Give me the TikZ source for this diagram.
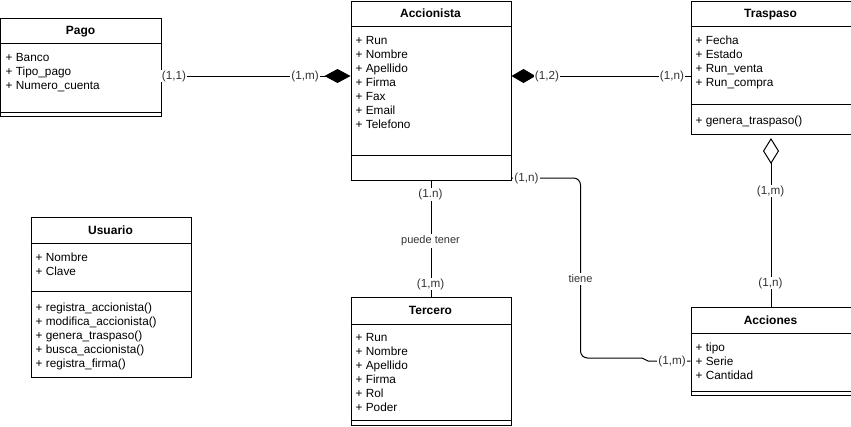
\documentclass[tikz,border=0pt]{standalone}
\usepackage{fontspec}
\setmainfont{Liberation Sans}
\usetikzlibrary{arrows.meta}
\definecolor{lbl}{HTML}{333333}
\begin{document}
\begin{tikzpicture}[x=1bp,y=-1bp,
  classbox/.style={draw=black, line width=1bp, anchor=north west, inner sep=0, minimum width=160bp},
  divider/.style={draw=black, line width=1bp},
  title/.style={font=\bfseries\fontsize{12bp}{14bp}\selectfont, anchor=base, inner sep=0},
  attr/.style={font=\fontsize{11.8bp}{14bp}\selectfont, anchor=base west, inner sep=0},
  conn/.style={draw=black, line width=1bp},
  card/.style={font=\fontsize{11.7bp}{14bp}\selectfont, text=lbl, fill=white, inner sep=1bp},
  rolelbl/.style={font=\fontsize{11bp}{13bp}\selectfont, text=lbl, fill=white, inner sep=1.5bp},
]
\useasboundingbox (0,0) rectangle (851,426);

% ---------- Pago ----------
\node[classbox, minimum height=98bp] (pago) at (0.5,18) {};
\draw[divider] (pago.west |- 0,43) -- (pago.east |- 0,43);
\draw[divider] (pago.west |- 0,112) -- (pago.east |- 0,112);
\node[title] (pagoT) at (80.5,34.8) {Pago};
\foreach \t [count=\i from 0] in {Banco,Tipo\_pago,Numero\_cuenta}
  \node[attr] (pagoA\i) at (5.5,61+14*\i) {+ \t};

% ---------- Accionista ----------
\node[classbox, minimum height=179bp] (acc) at (350.5,1) {};
\draw[divider] (acc.west |- 0,26) -- (acc.east |- 0,26);
\draw[divider] (acc.west |- 0,155) -- (acc.east |- 0,155);
\node[title] (accT) at (430.5,17.8) {Accionista};
\foreach \t [count=\i from 0] in {Run,Nombre,Apellido,Firma,Fax,Email,Telefono}
  \node[attr] (accA\i) at (355.5,44+14*\i) {+ \t};

% ---------- Traspaso ----------
\node[classbox, minimum height=133bp] (trasp) at (690.5,1) {};
\draw[divider] (trasp.west |- 0,26) -- (trasp.east |- 0,26);
\draw[divider] (trasp.west |- 0,104) -- (trasp.east |- 0,104);
\node[title] (traspT) at (770.5,17.8) {Traspaso};
\foreach \t [count=\i from 0] in {Fecha,Estado,Run\_venta,Run\_compra}
  \node[attr] (traspA\i) at (695.5,44+14*\i) {+ \t};
\node[attr] (traspM0) at (695.5,124.5) {+ genera\_traspaso()};

% ---------- Usuario ----------
\node[classbox, minimum height=160bp] (usu) at (30.5,217) {};
\draw[divider] (usu.west |- 0,243) -- (usu.east |- 0,243);
\draw[divider] (usu.west |- 0,291) -- (usu.east |- 0,291);
\node[title] (usuT) at (110.5,234.3) {Usuario};
\foreach \t [count=\i from 0] in {Nombre,Clave}
  \node[attr] (usuA\i) at (35.5,261+14*\i) {+ \t};
\foreach \t [count=\i from 0] in {registra\_accionista(),modifica\_accionista(),genera\_traspaso(),busca\_accionista(),registra\_firma()}
  \node[attr] (usuM\i) at (35.5,311.5+14*\i) {+ \t};

% ---------- Tercero ----------
\node[classbox, minimum height=128bp] (terc) at (350.5,297) {};
\draw[divider] (terc.west |- 0,324) -- (terc.east |- 0,324);
\draw[divider] (terc.west |- 0,420.5) -- (terc.east |- 0,420.5);
\node[title] (tercT) at (430.5,314.8) {Tercero};
\foreach \t [count=\i from 0] in {Run,Nombre,Apellido,Firma,Rol,Poder}
  \node[attr] (tercA\i) at (355.5,341+14*\i) {+ \t};

% ---------- Acciones ----------
\node[classbox, minimum height=88bp] (acci) at (690.5,307) {};
\draw[divider] (acci.west |- 0,333) -- (acci.east |- 0,333);
\draw[divider] (acci.west |- 0,391) -- (acci.east |- 0,391);
\node[title] (acciT) at (770.5,324.3) {Acciones};
\foreach \t [count=\i from 0] in {tipo,Serie,Cantidad}
  \node[attr] (acciA\i) at (695.5,351+14*\i) {+ \t};

% ---------- Connectors ----------
\draw[conn, -{Diamond[length=26bp 0, width=14bp 0]}] (pago.east |- 0,76) -- (acc.west |- 0,76);
\draw[conn, {Diamond[length=24bp 0, width=14bp 0]}-] (acc.east |- 0,76) -- (trasp.west |- 0,76);
\draw[conn, {Diamond[open, fill=white, length=26bp 0, width=16bp 0]}-, shorten <=3bp] (trasp.south) -- (acci.north);
\draw[conn] (acc.south) -- (terc.north);
\coordinate (jog) at (642,358);
\draw[conn, rounded corners=7bp] (acc.east |- 0,178) -- (580.5,178) -- (580.5,358) -- (jog);
\draw[conn] (jog) .. controls (645,358) and (645,361) .. (648,361) -- (acci.west |- 0,361);

% ---------- Labels ----------
\node[card] (l1) at (174,76) {(1,1)};
\node[card] (l2) at (305,76) {(1,m)};
\node[card] (l3) at (547,76) {(1,2)};
\node[card] (l4) at (672,76) {(1,n)};
\node[card] (l5) at (770.5,191) {(1,m)};
\node[card] (l6) at (770.5,283) {(1,n)};
\node[card] (l7) at (430.5,194.5) {(1.n)};
\node[rolelbl] (l8) at (430.5,241) {puede tener};
\node[card] (l9) at (430.5,284) {(1,m)};
\node[card] (l10) at (526.5,178) {(1,n)};
\node[rolelbl] (l11) at (580.5,279) {tiene};
\node[card] (l12) at (672,361.5) {(1,m)};
\end{tikzpicture}
\end{document}
